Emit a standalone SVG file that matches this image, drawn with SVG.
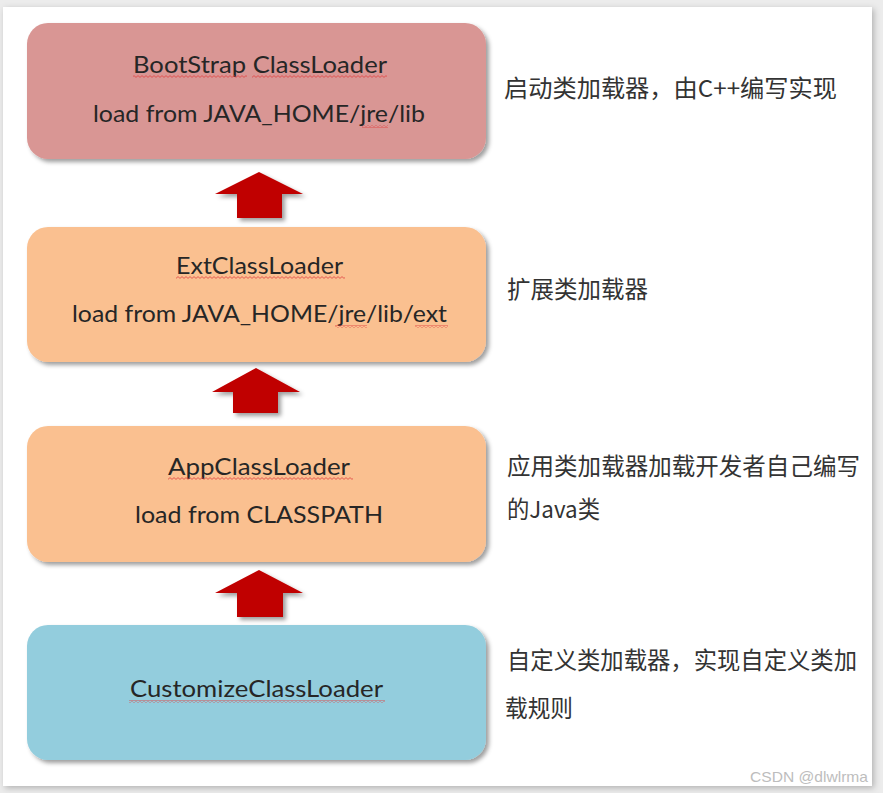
<svg xmlns="http://www.w3.org/2000/svg" width="883" height="793" viewBox="0 0 883 793">
  <defs>
    <filter id="shadow" x="-10%" y="-10%" width="125%" height="130%">
      <feDropShadow dx="3" dy="3" stdDeviation="2.2" flood-color="#000" flood-opacity="0.38"/>
    </filter>
    <filter id="card" x="-5%" y="-5%" width="110%" height="110%">
      <feDropShadow dx="2" dy="2" stdDeviation="3" flood-color="#000" flood-opacity="0.25"/>
    </filter>
    <pattern id="wave" width="4" height="3" patternUnits="userSpaceOnUse">
      <path d="M0 2.4 L2 0.6 L4 2.4" fill="none" stroke="#e04040" stroke-width="0.8"/>
    </pattern>
  </defs>
  <style>
    .lbl { font-family: Lato, "Open Sans", "Noto Sans", sans-serif; font-size: 23px; fill: #262626; }
    .note { font-family: "Noto Sans CJK SC", "Noto Sans", sans-serif; font-size: 23.5px; fill: #333333; }
    .wm { font-family: "Liberation Sans", Arial, sans-serif; font-size: 15px; fill: #bdbdbd; }
    .squig { fill: url(#wave); }
    .arrow { fill: #C00000; filter: url(#shadow); }
    .box { filter: url(#shadow); }
  </style>

  <rect x="0" y="0" width="883" height="793" fill="#ececec"/>
  <rect x="3" y="7" width="869" height="779" fill="#ffffff" filter="url(#card)"/>

  <g id="connectors">
    <path class="arrow" d="M259 172 L303 194 L282 194 L282 218 L237 218 L237 194 L215 194 Z"/>
    <path class="arrow" d="M256 368 L300 392 L278 392 L278 413 L233 413 L233 392 L212 392 Z"/>
    <path class="arrow" d="M259 570 L303 593 L283 593 L283 617 L237 617 L237 593 L215 593 Z"/>
  </g>

  <g id="bootstrap">
    <rect class="box" x="27" y="23" width="459" height="136" rx="21" fill="#D99694"/>
    <text class="lbl" x="133" y="73" textLength="254" lengthAdjust="spacingAndGlyphs">BootStrap ClassLoader</text>
    <text class="lbl" x="93" y="122" textLength="332" lengthAdjust="spacingAndGlyphs">load from JAVA_HOME/jre/lib</text>
    <rect class="squig" x="133" y="75" width="114" height="3"/>
    <rect class="squig" x="252" y="75" width="135" height="3"/>
    <rect class="squig" x="362" y="125" width="26" height="3"/>
  </g>

  <g id="ext">
    <rect class="box" x="27" y="227" width="459" height="135" rx="21" fill="#FAC090"/>
    <text class="lbl" x="176" y="274" textLength="167" lengthAdjust="spacingAndGlyphs">ExtClassLoader</text>
    <text class="lbl" x="72" y="322" textLength="375" lengthAdjust="spacingAndGlyphs">load from JAVA_HOME/jre/lib/ext</text>
    <rect class="squig" x="176" y="276" width="169" height="3"/>
    <rect class="squig" x="335" y="325" width="32" height="3"/>
    <rect class="squig" x="415" y="325" width="33" height="3"/>
  </g>

  <g id="app">
    <rect class="box" x="27" y="426" width="459" height="136" rx="21" fill="#FAC090"/>
    <text class="lbl" x="168" y="475" textLength="182" lengthAdjust="spacingAndGlyphs">AppClassLoader</text>
    <text class="lbl" x="135" y="523" textLength="248" lengthAdjust="spacingAndGlyphs">load from CLASSPATH</text>
    <rect class="squig" x="168" y="477" width="185" height="3"/>
  </g>

  <g id="customize">
    <rect class="box" x="27" y="625" width="459" height="135" rx="21" fill="#93CDDD"/>
    <text class="lbl" x="130" y="697" textLength="253" lengthAdjust="spacingAndGlyphs">CustomizeClassLoader</text>
    <rect class="squig" x="129" y="700" width="256" height="3"/>
  </g>

  <g id="notes">
    <text class="note" x="504" y="97" textLength="333" lengthAdjust="spacingAndGlyphs">启动类加载器，由C++编写实现</text>
    <text class="note" x="507" y="298" textLength="141" lengthAdjust="spacingAndGlyphs">扩展类加载器</text>
    <text class="note" x="507" y="475" textLength="353" lengthAdjust="spacingAndGlyphs">应用类加载器加载开发者自己编写</text>
    <text class="note" x="507" y="518" textLength="93" lengthAdjust="spacingAndGlyphs">的Java类</text>
    <text class="note" x="507" y="669" textLength="350" lengthAdjust="spacingAndGlyphs">自定义类加载器，实现自定义类加</text>
    <text class="note" x="505" y="717" textLength="68" lengthAdjust="spacingAndGlyphs">载规则</text>
  </g>

  <text class="wm" x="750" y="782" textLength="118" lengthAdjust="spacingAndGlyphs">CSDN @dlwlrma</text>
</svg>
